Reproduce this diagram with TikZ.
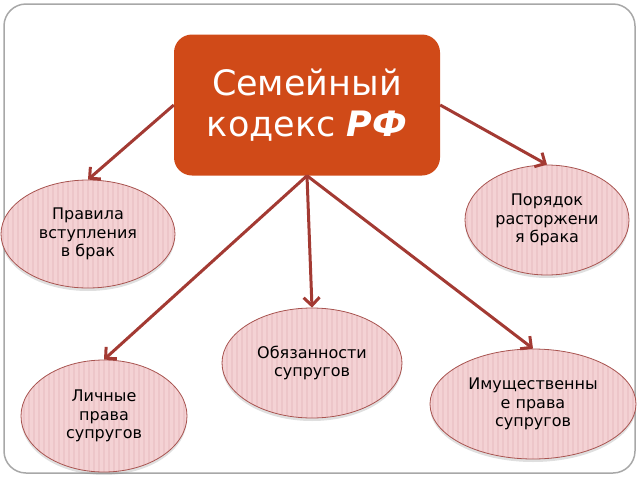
\documentclass[tikz,border=0pt]{standalone}
\usepackage{fontspec}
\setmainfont{DejaVu Sans}
\usetikzlibrary{shapes.geometric,arrows.meta,shadows}
\definecolor{kodex}{HTML}{D04A18}
\definecolor{strelka}{HTML}{A33A33}
\definecolor{rozov}{HTML}{F4D2D4}
\definecolor{polos}{HTML}{EDC6C9}
\definecolor{kaima}{HTML}{A85450}
\definecolor{ramka}{HTML}{A8A8A8}

\begin{document}
\begin{tikzpicture}[x=1pt,y=-1pt,
    glavny/.style ={rectangle, rounded corners=18pt, fill=kodex, text=white, minimum width=266pt, minimum height=141pt, align=center, font=\fontsize{35}{41}\selectfont},
    oblast/.style ={ellipse, draw=kaima, thick, fill=rozov, inner sep=0pt, align=center, font=\fontsize{16}{18.5}\selectfont,
      path picture={\foreach \i in {-110,-105,...,110}
        \draw[polos, line width=1.5pt] ([xshift=\i pt]path picture bounding box.south) -- ([xshift=\i pt]path picture bounding box.north);},
      drop shadow={opacity=0.25, shadow xshift=0pt, shadow yshift=-3pt}},
    svyaz/.style ={line width=3pt, strelka, -{Straight Barb[length=8pt,width=16pt]}}]
   \useasboundingbox (0,0) rectangle (640,480);
   \draw[ramka, line width=1.5pt, rounded corners=22pt] (4,4) rectangle (635,473);

   \node[glavny] (kodeks) at (307,105) {Семейный\\кодекс \textbf{\textit{РФ}}};
   \node[oblast, minimum width=174pt, minimum height=108pt] (pravila) at (88,234) {Правила\\вступления\\в брак};
   \node[oblast, minimum width=164pt, minimum height=110pt] (poryadok) at (547,220) {Порядок\\расторжени\\я брака};
   \node[oblast, minimum width=180pt, minimum height=110pt] (obyazannosti) at (312,363) {Обязанности\\супругов};
   \node[oblast, minimum width=166pt, minimum height=112pt] (lichnye) at (104,416) {Личные\\права\\супругов};
   \node[oblast, minimum width=206pt, minimum height=110pt] (imushch) at (533,404) {Имущественны\\е права\\супругов};

   \draw[svyaz] (kodeks.west) to (pravila.north);
   \draw[svyaz] (kodeks.east) to (poryadok.north);
   \draw[svyaz] (kodeks.south) to (obyazannosti.north);
   \draw[svyaz] (kodeks.south) to (lichnye.north);
   \draw[svyaz] (kodeks.south) to (imushch.north);
 \end{tikzpicture}
\end{document}
